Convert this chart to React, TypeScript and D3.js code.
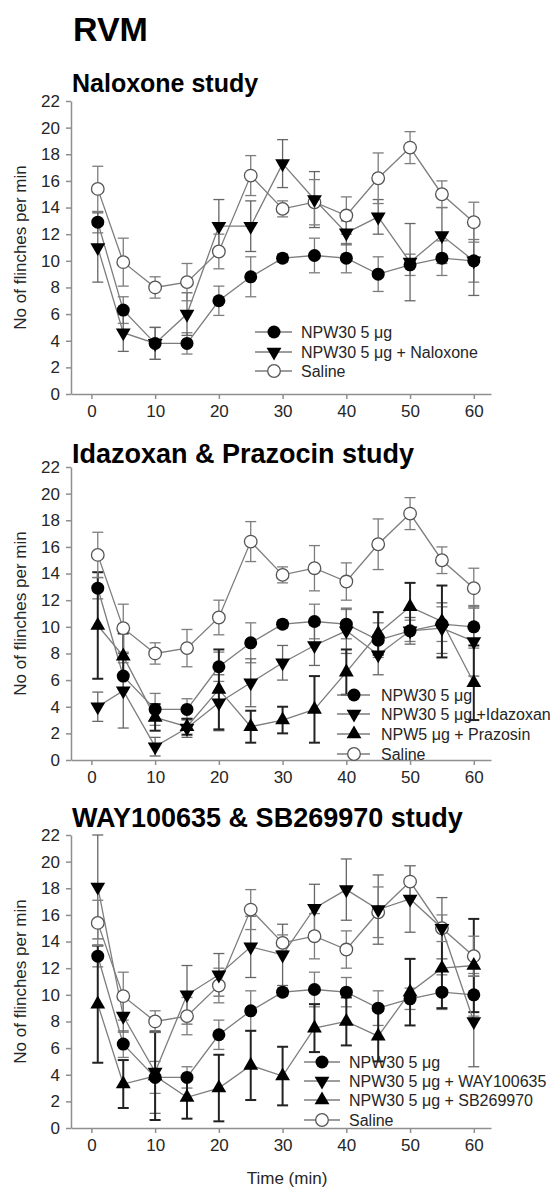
import React, { useRef, useEffect } from "react";
import { select, scaleLinear, axisLeft, axisBottom, line, symbol, symbolTriangle } from "d3";

// sampling times (min)
const times = [1, 5, 10, 15, 20, 25, 30, 35, 40, 45, 50, 55, 60];
const xTicks = [0, 10, 20, 30, 40, 50, 60];
const yTicks = [0, 2, 4, 6, 8, 10, 12, 14, 16, 18, 20, 22];

// shared groups (same in every panel)
const npw30 = [12.9, 6.3, 3.8, 3.8, 7.0, 8.8, 10.2, 10.4, 10.2, 9.0, 9.7, 10.2, 10.0];
const npw30Err = [0.8, 1.0, 1.2, 0.8, 1.1, 1.5, 0.3, 1.3, 1.1, 1.3, 0.8, 1.3, 1.6];
const saline = [15.4, 9.9, 8.0, 8.4, 10.7, 16.4, 13.9, 14.4, 13.4, 16.2, 18.5, 15.0, 12.9];
const salineErr = [1.7, 1.8, 0.8, 1.4, 1.3, 1.5, 0.6, 1.7, 1.4, 1.9, 1.2, 1.0, 1.5];

// naloxone study
const naloxone = [11.0, 4.6, 3.8, 6.0, 12.6, 12.6, 17.3, 14.6, 12.1, 13.3, 9.9, 11.9, 10.0];
const naloxoneErr = [2.6, 1.4, 1.2, 1.6, 2.0, 1.9, 1.8, 2.1, 0.9, 1.3, 2.9, 2.1, 2.6];

// idazoxan & prazosin study
const idazoxan = [4.0, 5.2, 1.0, 2.4, 4.3, 5.8, 7.3, 8.6, 9.7, 7.9, 9.7, 9.9, 8.9];
const idazoxanErr = [1.1, 2.8, 0.7, 0.7, 2.1, 1.8, 1.3, 1.5, 1.7, 1.5, 1.0, 1.9, 2.6];
const prazosin = [10.1, 7.8, 3.2, 2.5, 5.3, 2.5, 3.0, 3.8, 6.6, 9.5, 11.5, 10.4, 5.8];
const prazosinErr = [4.0, 1.7, 1.0, 0.6, 3.0, 1.2, 1.0, 2.5, 1.7, 1.6, 1.8, 2.7, 2.8];

// WAY100635 & SB269970 study
const way = [18.1, 8.4, 4.2, 10.0, 11.5, 13.6, 13.0, 16.5, 17.9, 16.4, 17.2, 15.0, 8.0];
const wayErr = [3.9, 1.2, 3.1, 2.2, 1.6, 2.3, 2.3, 1.8, 2.3, 2.6, 2.5, 2.3, 3.4];
const sb = [9.3, 3.3, 3.9, 2.3, 3.0, 4.7, 3.9, 7.5, 8.0, 6.9, 10.2, 12.0, 12.2];
const sbErr = [4.4, 1.8, 3.3, 1.6, 2.5, 2.6, 2.2, 1.8, 1.8, 1.9, 2.5, 3.0, 3.5];

const FONT = "'Liberation Sans', Arial, Helvetica, sans-serif";
const GREY = "#7d7d7d";

const sNpw = { name: "NPW30 5 μg", values: npw30, err: npw30Err, marker: "dot", bar: GREY, barW: 1.3 };
const sSal = { name: "Saline", values: saline, err: salineErr, marker: "open", bar: GREY, barW: 1.3 };

const panels = [
  {
    title: "Naloxone study",
    titleSize: 25,
    titleY: 92,
    top: 101,
    series: [
      sNpw,
      { name: "NPW30 5 μg + Naloxone", values: naloxone, err: naloxoneErr, marker: "down", bar: "#666", barW: 1.3 },
      sSal,
    ],
    legend: { x1: 255, x2: 292, mx: 274, tx: 301, rows: [332, 352, 371] },
  },
  {
    title: "Idazoxan & Prazocin study",
    titleSize: 27,
    titleY: 463,
    top: 467,
    series: [
      sNpw,
      { name: "NPW30 5 μg +Idazoxan", values: idazoxan, err: idazoxanErr, marker: "down", bar: "#666", barW: 1.3 },
      { name: "NPW5 μg + Prazosin", values: prazosin, err: prazosinErr, marker: "up", bar: "#222", barW: 2 },
      sSal,
    ],
    legend: { x1: 337, x2: 370, mx: 354, tx: 381, rows: [695, 714, 734, 754] },
  },
  {
    title: "WAY100635 & SB269970 study",
    titleSize: 27,
    titleY: 827,
    top: 835,
    series: [
      sNpw,
      { name: "NPW30 5 μg + WAY100635", values: way, err: wayErr, marker: "down", bar: "#666", barW: 1.3 },
      { name: "NPW30 5 μg + SB269970", values: sb, err: sbErr, marker: "up", bar: "#222", barW: 2 },
      sSal,
    ],
    legend: { x1: 304, x2: 340, mx: 322, tx: 349, rows: [1062, 1081, 1100, 1120] },
  },
];

function drawMarker(g, kind, cx, cy) {
  if (kind === "dot") {
    g.append("circle").attr("cx", cx).attr("cy", cy).attr("r", 6.5).attr("fill", "#000");
  } else if (kind === "open") {
    g.append("circle").attr("cx", cx).attr("cy", cy).attr("r", 6.3)
      .attr("fill", "#fff").attr("stroke", "#555").attr("stroke-width", 1.3);
  } else {
    const rot = kind === "down" ? 180 : 0;
    g.append("path")
      .attr("d", symbol(symbolTriangle, 95)())
      .attr("transform", `translate(${cx},${cy}) rotate(${rot})`)
      .attr("fill", "#000");
  }
}

function RvmFigure() {
  const svgRef = useRef(null);

  useEffect(() => {
    const svg = select(svgRef.current);
    svg.selectAll("*").remove();

    const x = scaleLinear().domain([-3.2, 62.7]).range([71, 491]);

    svg.append("text")
      .attr("x", 73).attr("y", 41)
      .attr("font-family", FONT).attr("font-size", 34).attr("font-weight", "bold")
      .text("RVM");

    panels.forEach((p, pi) => {
      const y = scaleLinear().domain([0, 22]).range([p.top + 293, p.top]);
      const g = svg.append("g");

      g.append("text")
        .attr("x", 72).attr("y", p.titleY)
        .attr("font-family", FONT).attr("font-size", p.titleSize).attr("font-weight", "bold")
        .text(p.title);

      // axes
      const yAxis = g.append("g")
        .attr("transform", "translate(71,0)")
        .call(axisLeft(y).tickValues(yTicks).tickSize(5).tickSizeOuter(0).tickPadding(6));
      const xAxis = g.append("g")
        .attr("transform", `translate(0,${y(0)})`)
        .call(axisBottom(x).tickValues(xTicks).tickSize(5).tickSizeOuter(0).tickPadding(6));
      [yAxis, xAxis].forEach((a) => {
        a.attr("font-family", FONT).attr("font-size", 17);
        a.select(".domain").attr("stroke", "#8f8f8f").attr("stroke-width", 1.5);
        a.selectAll(".tick line").attr("stroke", "#8f8f8f").attr("stroke-width", 1.5);
        a.selectAll(".tick text").attr("fill", "#262626");
      });

      g.append("text")
        .attr("transform", `translate(20,${p.top + 146.5}) rotate(-90)`)
        .attr("text-anchor", "middle").attr("dominant-baseline", "central")
        .attr("font-family", FONT).attr("font-size", 17).attr("fill", "#262626")
        .text("No of flinches per min");

      // error bars
      p.series.forEach((s) => {
        s.values.forEach((v, i) => {
          const cx = x(times[i]);
          const hi = y(v + s.err[i]);
          const lo = y(v - s.err[i]);
          const eb = g.append("g").attr("stroke", s.bar).attr("stroke-width", s.barW);
          eb.append("line").attr("x1", cx).attr("x2", cx).attr("y1", hi).attr("y2", lo);
          eb.append("line").attr("x1", cx - 5.5).attr("x2", cx + 5.5).attr("y1", hi).attr("y2", hi);
          eb.append("line").attr("x1", cx - 5.5).attr("x2", cx + 5.5).attr("y1", lo).attr("y2", lo);
        });
      });

      // connecting lines
      const lineGen = line()
        .x((d, i) => x(times[i]))
        .y((d) => y(d));
      p.series.forEach((s) => {
        g.append("path")
          .attr("d", lineGen(s.values))
          .attr("fill", "none")
          .attr("stroke", GREY)
          .attr("stroke-width", 1.3);
      });

      // markers: saline underneath, the rest on top
      const order = [p.series[p.series.length - 1], ...p.series.slice(0, -1)];
      order.forEach((s) => {
        s.values.forEach((v, i) => drawMarker(g, s.marker, x(times[i]), y(v)));
      });

      // legend
      const L = p.legend;
      p.series.forEach((s, i) => {
        const ry = L.rows[i];
        g.append("line")
          .attr("x1", L.x1).attr("x2", L.x2).attr("y1", ry).attr("y2", ry)
          .attr("stroke", GREY).attr("stroke-width", 1.3);
        drawMarker(g, s.marker, L.mx, ry);
        g.append("text")
          .attr("x", L.tx).attr("y", ry).attr("dy", "0.35em")
          .attr("font-family", FONT).attr("font-size", 16).attr("fill", "#262626")
          .text(s.name);
      });

      if (pi === panels.length - 1) {
        g.append("text")
          .attr("x", 287).attr("y", 1184)
          .attr("text-anchor", "middle")
          .attr("font-family", FONT).attr("font-size", 17).attr("fill", "#262626")
          .text("Time (min)");
      }
    });
  }, []);

  return (
    <svg
      ref={svgRef}
      width={555}
      height={1187}
      style={{ position: "absolute", left: 0, top: 0, background: "#fff" }}
    />
  );
}

export default function App() {
  return <RvmFigure />;
}
